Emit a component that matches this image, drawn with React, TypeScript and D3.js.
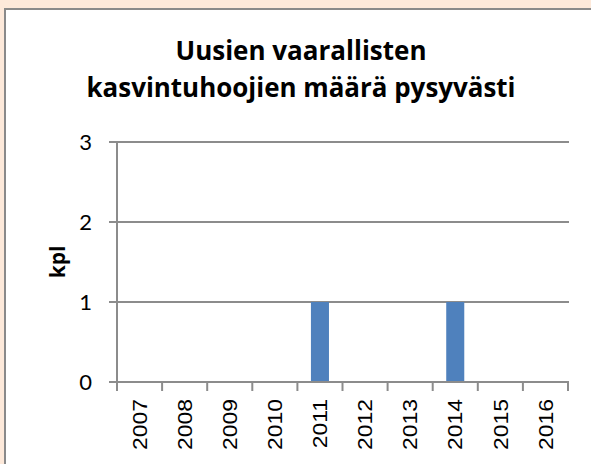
import React from 'react';
import * as d3 from 'd3';

// values
const years = ['2007', '2008', '2009', '2010', '2011', '2012', '2013', '2014', '2015', '2016'];
const counts = [0, 0, 0, 0, 1, 0, 0, 1, 0, 0];
const yTicks = [0, 1, 2, 3];
const titleLines = ['Uusien vaarallisten', 'kasvintuhoojien määrä pysyvästi'];
const yLabel = 'kpl';

const W = 591;
const H = 464;
const plot = { left: 117, right: 568, top: 142, bottom: 382 };

const App = () => {
    var x = d3.scaleBand()
        .domain(years)
        .range([plot.left, plot.right])
        .padding(0);
    var y = d3.scaleLinear()
        .domain([0, 3])
        .range([plot.bottom, plot.top]);
    var bw = x.bandwidth();
    var grid = '#8c8c8c';
    var boundaries = years.map((d) => x(d)).concat([plot.right]);

    return (
        <svg width={W} height={H} style={{ position: 'absolute', left: 0, top: 0 }}>
            <rect x={0} y={0} width={W} height={H} fill="#fde9da" />
            <rect x={5} y={9} width={W + 10} height={H + 10} fill="#ffffff" stroke="#8a8a8a" strokeWidth={2} />

            {/* title */}
            <g fontFamily="'Open Sans', Lato, sans-serif" fontWeight="bold" fontSize={26} textAnchor="middle" fill="#000">
                <text x={301} y={60} textLength={251} lengthAdjust="spacingAndGlyphs">{titleLines[0]}</text>
                <text x={301} y={97} textLength={429} lengthAdjust="spacingAndGlyphs">{titleLines[1]}</text>
            </g>

            {/* gridlines */}
            {yTicks.filter((t) => t > 0).map((t) => (
                <line key={'g' + t} x1={plot.left} x2={plot.right + 1} y1={y(t)} y2={y(t)} stroke={grid} strokeWidth={2} />
            ))}

            {/* bars */}
            {years.map((d, i) => counts[i] > 0 ? (
                <rect key={'b' + d} x={x(d) + bw * 0.3} width={bw * 0.4} y={y(counts[i])} height={y(0) - y(counts[i])} fill="#4f81bd" />
            ) : null)}

            {/* y axis */}
            <line x1={plot.left} x2={plot.left} y1={plot.top} y2={plot.bottom + 1} stroke={grid} strokeWidth={2} />
            {yTicks.map((t) => (
                <g key={'y' + t}>
                    <line x1={plot.left - 8} x2={plot.left} y1={y(t)} y2={y(t)} stroke={grid} strokeWidth={2} />
                    <text x={92} y={y(t)} dy="0.35em" textAnchor="end" fontFamily="Lato, sans-serif" fontSize={22} fill="#000">{t}</text>
                </g>
            ))}
            <text transform={`translate(65, ${(plot.top + plot.bottom) / 2}) rotate(-90)`} textAnchor="middle"
                fontFamily="'Open Sans', Lato, sans-serif" fontWeight="bold" fontSize={21} fill="#000">{yLabel}</text>

            {/* x axis */}
            <line x1={plot.left - 8} x2={plot.right + 1} y1={plot.bottom} y2={plot.bottom} stroke={grid} strokeWidth={2} />
            {boundaries.map((bx, i) => (
                <line key={'t' + i} x1={bx} x2={bx} y1={plot.bottom} y2={plot.bottom + 9} stroke={grid} strokeWidth={2} />
            ))}
            {years.map((d) => (
                <text key={'x' + d} transform={`translate(${x(d) + bw / 2}, 399) rotate(-90) scale(1.12, 1)`}
                    textAnchor="end" dy="0.35em" fontFamily="'Liberation Sans', Arial, sans-serif" fontSize={20.5} fill="#000">{d}</text>
            ))}
        </svg>
    );
};

export default App;
